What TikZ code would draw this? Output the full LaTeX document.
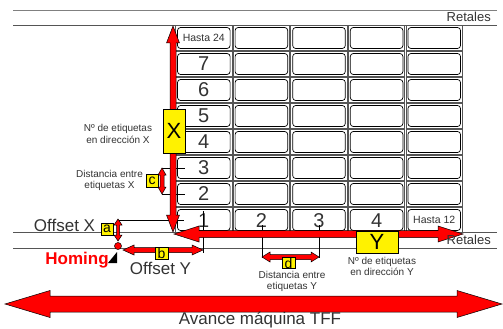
\documentclass[tikz,border=0pt]{standalone}
\usepackage{fontspec}
\setmainfont{Liberation Sans}
\definecolor{txtgray}{HTML}{333333}
\definecolor{rulegray}{HTML}{555555}
\newcommand\myharr[6]{%
 \filldraw[arr] (#1,#3) -- ({#1+#6},{#3-#5}) -- ({#1+#6},{#3-#4}) -- ({#2-#6},{#3-#4}) -- ({#2-#6},{#3-#5}) -- (#2,#3) -- ({#2-#6},{#3+#5}) -- ({#2-#6},{#3+#4}) -- ({#1+#6},{#3+#4}) -- ({#1+#6},{#3+#5}) -- cycle;}
\newcommand\myvarr[6]{%
 \filldraw[arr] (#3,#1) -- ({#3-#5},{#1+#6}) -- ({#3-#4},{#1+#6}) -- ({#3-#4},{#2-#6}) -- ({#3-#5},{#2-#6}) -- (#3,#2) -- ({#3+#5},{#2-#6}) -- ({#3+#4},{#2-#6}) -- ({#3+#4},{#1+#6}) -- ({#3+#5},{#1+#6}) -- cycle;}
\tikzset{
 lbl/.style={font=\fontsize{10}{11.5}\selectfont, text=txtgray, align=center, inner sep=0pt},
 bigtxt/.style={font=\fontsize{17}{20}\selectfont, text=txtgray, inner sep=0pt},
 digit/.style={font=\fontsize{20}{20}\selectfont, text=txtgray, inner sep=0pt},
 small/.style={font=\fontsize{10.5}{12}\selectfont, text=txtgray, inner sep=0pt},
 ybox/.style={draw=black, fill=yellow, inner sep=0pt, line width=0.6pt},
 letter/.style={font=\fontsize{14}{14}\selectfont, text=black},
 arr/.style={fill=red, draw=black, line width=0.5pt},
 rulel/.style={draw=rulegray, line width=0.9pt},
 thin/.style={draw=black, line width=0.6pt},
 outer/.style={draw=rulegray, line width=0.7pt, minimum width=56.4pt, minimum height=25pt, inner sep=0pt},
 cellr/.style={draw=black, line width=0.7pt, rounded corners=3pt, minimum width=52.6pt, minimum height=21pt, inner sep=0pt}
}
\begin{document}
\begin{tikzpicture}[x=1pt,y=-1pt]
\fill[white] (0,0) rectangle (503,329);
\useasboundingbox (0,0) rectangle (503,329);
% rules
\draw[draw=gray, line width=0.9pt] (13,10) -- (497,10);
\draw[rulel] (13,25) -- (497,25);
\draw[rulel] (13,232) -- (497,232);
\draw[rulel] (13,248) -- (497,248);
\node[font=\fontsize{13}{13}\selectfont, text=txtgray, anchor=east, inner sep=0pt] (ret1) at (491,17) {Retales};
% grid
\foreach \i in {0,...,4} {
  \foreach \j in {0,...,7} {
    \node[outer] (o\i\j) at ({175+57.6*\i+28.8},{25+26*\j+13}) {};
    \node[cellr] (c\i\j) at ({175+57.6*\i+28.8},{25+26*\j+13}) {};
  }
}
\node[small] (h24) at (c00) {Hasta 24};
\node[digit] (d7) at (c01) {7};
\node[digit] (d6) at (c02) {6};
\node[digit] (d5) at (c03) {5};
\node[digit] (d4) at (c04) {4};
\node[digit] (d3) at (c05) {3};
\node[digit] (d2) at (c06) {2};
\node[digit] (d1) at ([yshift=-1pt]c07) {1};
\node[digit] (e2) at ([yshift=-1pt]c17) {2};
\node[digit] (e3) at ([yshift=-1pt]c27) {3};
\node[digit] (e4) at ([yshift=-1pt]c37) {4};
\node[small] (h12) at (c47) {Hasta 12};
% marker lines
\coordinate (m3a) at (162,168); \coordinate (m3b) at (185,168);
\coordinate (m2a) at (162,194); \coordinate (m2b) at (185,194);
\coordinate (m1a) at (118,220); \coordinate (m1b) at (184,220);
\draw[thin] (m3a) -- (m3b);
\draw[thin] (m2a) -- (m2b);
\draw[thin] (m1a) -- (m1b);
\coordinate (v1a) at (203,211); \coordinate (v1b) at (203,253);
\coordinate (v2a) at (262,225); \coordinate (v2b) at (262,258);
\coordinate (v3a) at (319,225); \coordinate (v3b) at (319,258);
\draw[thin] (v1a) -- (v1b);
\draw[thin] (v2a) -- (v2b);
\draw[thin] (v3a) -- (v3b);
% red arrows
\myvarr{26}{232}{173}{3}{6.5}{17}
\myharr{174}{463}{234}{3.5}{8}{25}
\myvarr{219}{241}{118}{1.5}{4}{6}
\myharr{123}{203}{250}{2.5}{5}{11}
\myvarr{168}{194}{162}{2}{4}{7}
\myharr{262}{319}{257}{2.5}{5}{8}
\myharr{5}{502}{304}{8}{13.5}{45}
% homing point
\node[circle, fill=red, draw=black, line width=0.5pt, minimum size=7pt, inner sep=0pt] (home) at (118,246) {};
\fill[black] (108,263) -- (117,252) -- (117,263) -- cycle;
% yellow boxes
\node[ybox, minimum width=22pt, minimum height=44pt, font=\fontsize{22}{22}\selectfont] (bx) at (174,131) {X};
\node[ybox, minimum width=42pt, minimum height=22pt, font=\fontsize{22}{22}\selectfont] (by) at (377,242) {Y};
\node[ybox, minimum width=12pt, minimum height=12pt, letter] (ba) at (107,229) {a};
\node[ybox, minimum width=13pt, minimum height=12pt, letter] (bb) at (161.5,253.5) {b};
\node[ybox, minimum width=12pt, minimum height=13pt, letter] (bc) at (152,180.5) {c};
\node[ybox, minimum width=13pt, minimum height=11pt, letter] (bd) at (288.5,263) {d};
% texts
\node[font=\fontsize{13}{13}\selectfont, text=txtgray, anchor=east, inner sep=0pt] (ret2) at (491,240) {Retales};
\node[lbl] (tnx) at (118,134) {Nº de etiquetas\\en dirección X};
\node[lbl] (tdx) at (109.5,180.5) {Distancia entre\\etiquetas X};
\node[bigtxt] (tox) at (64.5,225) {Offset X};
\node[bigtxt] (toy) at (160.5,268.5) {Offset Y};
\node[font=\bfseries\fontsize{17}{20}\selectfont, text=red, inner sep=0pt] (thom) at (77,260) {Homing};
\node[lbl] (tny) at (382,266.5) {Nº de etiquetas\\en dirección Y};
\node[lbl] (tdy) at (292,281.5) {Distancia entre\\etiquetas Y};
\node[bigtxt] (tav) at (260,320) {Avance máquina TFF};
\end{tikzpicture}
\end{document}
